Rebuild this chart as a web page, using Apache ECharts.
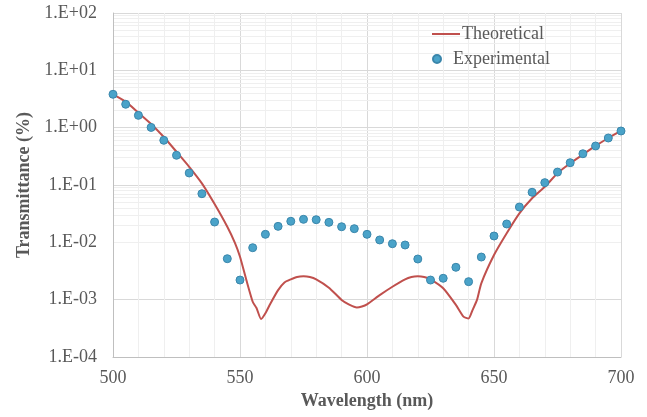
<!DOCTYPE html>
<html>
<head>
<meta charset="utf-8">
<script src="https://cdn.jsdelivr.net/npm/echarts@6/dist/echarts.min.js"></script>
<style>html,body{margin:0;padding:0;background:#fff;}#c{width:647px;height:417px;}</style>
</head>
<body>
<div id="c"></div>
<script>
// Experimental data (every 5 nm)
const expWavelength = [500,505,510,515,520,525,530,535,540,545,550,555,560,565,570,575,580,585,590,595,600,605,610,615,620,625,630,635,640,645,650,655,660,665,670,675,680,685,690,695,700];
const expTransmittance = [3.82,2.56,1.64,1.01,0.602,0.33,0.162,0.0705,0.0226,0.00518,0.0022,0.00806,0.0138,0.019,0.0233,0.0252,0.0248,0.0223,0.0187,0.0173,0.0138,0.011,0.00946,0.00898,0.00512,0.0022,0.00236,0.00367,0.00206,0.00554,0.0129,0.0209,0.0413,0.0746,0.11,0.168,0.245,0.351,0.479,0.66,0.875];
// Theoretical curve
const theoWavelength = [500,505,510,515,520,525,530,535,540,545,548,550,552.5,555,556.5,558.3,560,562,565,567.5,570,572.5,575,577.5,580,585,590,593,596,598,600,605,610,615,617.5,620,622.5,625,630,635,638,640,641.5,643.3,645,650,655,660,665,670,675,680,685,690,695,700];
const theoTransmittance = [3.82,2.84,1.82,1.16,0.687,0.38,0.208,0.107,0.0466,0.0187,0.0098,0.0056,0.0022,0.00092,0.000715,0.00046,0.00058,0.00086,0.00147,0.002,0.00226,0.00249,0.00255,0.00248,0.00226,0.00162,0.00099,0.00082,0.00073,0.00076,0.00083,0.0012,0.00168,0.00226,0.00248,0.00255,0.00248,0.00226,0.00158,0.00081,0.000505,0.00047,0.00065,0.00099,0.00193,0.006,0.0144,0.032,0.0586,0.093,0.16,0.239,0.34,0.48,0.66,0.875];
const xTicks = [500,550,600,650,700];
const yMin = 1e-4, yMax = 100;

const theoData = theoWavelength.map((x,i)=>[x,theoTransmittance[i]]);
const expData = expWavelength.map((x,i)=>[x,expTransmittance[i]]);

// minor log grid lines (2..9 of each decade)
const minorLines = [];
for (let e = -4; e < 2; e++) {
  for (let m = 2; m <= 9; m++) minorLines.push({yAxis: m * Math.pow(10, e)});
}

function fmtE(v){
  const e = Math.round(Math.log10(v));
  const s = e < 0 ? '-' : '+';
  const a = Math.abs(e);
  return '1.E' + s + (a < 10 ? '0' + a : a);
}

const font = '"Liberation Serif", "Times New Roman", serif';
const legendText = {fontFamily: font, fontSize: 18, color: '#595959', padding: [0,0,0,-3]};
const chart = echarts.init(document.getElementById('c'));
chart.setOption({
  animation: false,
  textStyle: {fontFamily: font},
  grid: {left: 113, right: 26, top: 13, bottom: 60},
  legend: [
    {
      left: 427, top: 20, itemWidth: 28, itemHeight: 2, icon: 'rect',
      textStyle: legendText, data: ['Theoretical']
    },
    {
      left: 427, top: 45, itemWidth: 28, itemHeight: 8, icon: 'circle',
      textStyle: legendText, data: ['Experimental']
    }
  ],
  xAxis: {
    type: 'value', min: 500, max: 700, interval: 50,
    name: 'Wavelength (nm)', nameLocation: 'middle', nameGap: 30,
    nameTextStyle: {fontFamily: font, fontSize: 18, fontWeight: 'bold', color: '#595959'},
    axisLine: {show: true, lineStyle: {color: '#bfbfbf', width: 1}},
    axisTick: {show: false},
    axisLabel: {fontFamily: font, fontSize: 18, color: '#595959', margin: 12,
      formatter: v => xTicks.includes(v) ? String(v) : ''},
    splitLine: {show: true, lineStyle: {color: '#d9d9d9', width: 1}},
    minorTick: {show: false, splitNumber: 5},
    minorSplitLine: {show: true, lineStyle: {color: '#efefef', width: 1}}
  },
  yAxis: {
    type: 'log', logBase: 10, min: yMin, max: yMax, interval: 1,
    name: 'Transmittance (%)', nameLocation: 'middle', nameGap: 74,
    nameTextStyle: {fontFamily: font, fontSize: 18, fontWeight: 'bold', color: '#595959'},
    axisLine: {show: true, lineStyle: {color: '#bfbfbf', width: 1}},
    axisTick: {show: false},
    axisLabel: {fontFamily: font, fontSize: 18, color: '#595959', margin: 16, formatter: fmtE},
    splitLine: {show: true, lineStyle: {color: '#d9d9d9', width: 1}}
  },
  series: [
    {
      name: 'Grid', type: 'line', data: [], silent: true, z: 0,
      markLine: {silent: true, z: 0, symbol: 'none', label: {show: false}, animation: false,
        emphasis: {disabled: true},
        lineStyle: {color: '#efefef', width: 1, type: 'solid'}, data: minorLines}
    },
    {
      name: 'Theoretical', type: 'line', data: theoData, symbol: 'none', smooth: 0.2,
      lineStyle: {color: '#c0504d', width: 2}, itemStyle: {color: '#c0504d'}, z: 3
    },
    {
      name: 'Experimental', type: 'scatter', data: expData, symbol: 'circle', symbolSize: 8,
      itemStyle: {color: '#4aa3c9', borderColor: '#3a86ab', borderWidth: 1, opacity: 1}, z: 4
    }
  ]
});
</script>
</body>
</html>
